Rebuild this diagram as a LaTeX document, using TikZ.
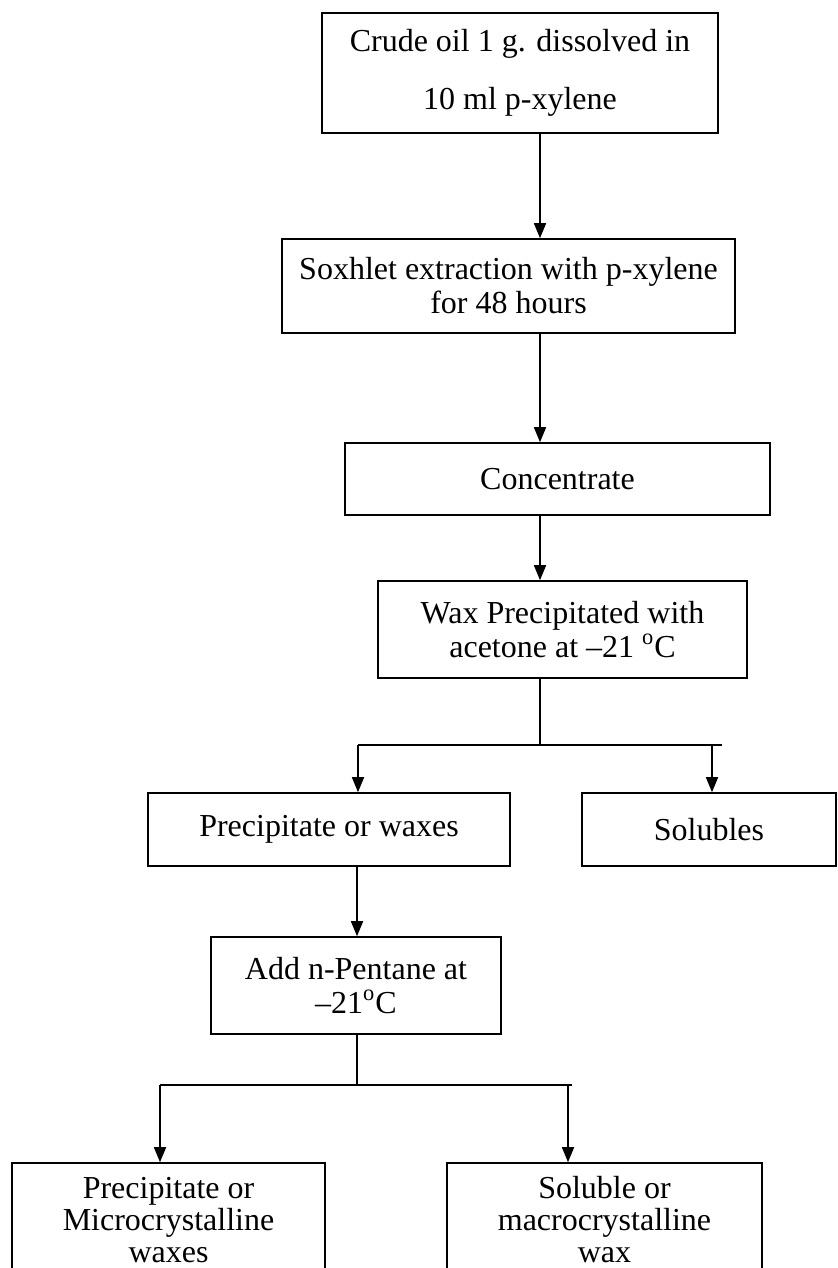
\documentclass[tikz,border=0pt]{standalone}
\usepackage{fontspec}
\setmainfont{Liberation Serif}
\usetikzlibrary{arrows.meta}
\begin{document}
\begin{tikzpicture}[x=0.5pt,y=-0.5pt,line width=0.8pt,
	box/.style={draw,inner sep=2pt,align=center,font=\fontsize{16}{17}\selectfont},
	arr/.style={-{Triangle[length=7.5pt,width=6pt]}}]
		\useasboundingbox (0,0) rectangle (838,1268);
		\clip (0,0) rectangle (838,1268);
		%boxes
		\node[box,minimum width=198pt,minimum height=60pt] (crude) at (520,73) {Crude oil 1 g. dissolved in\\[12pt]10 ml p-xylene};
		\node[box,minimum width=226.5pt,minimum height=47pt] (soxhlet) at (508.5,286) {Soxhlet extraction with p-xylene\\for 48 hours};
		\node[box,minimum width=212.5pt,minimum height=36pt] (conc) at (557.5,479) {Concentrate};
		\node[box,minimum width=184.5pt,minimum height=48.5pt] (waxppt) at (562.5,629.5) {Wax Precipitated with\\acetone at --21 \textsuperscript{o}C};
		\node[box,minimum width=181pt,minimum height=36.5pt] (pptwax) at (329,829.5) {Precipitate or waxes};
		\node[box,minimum width=127pt,minimum height=36.5pt] (solub) at (709,829.5) {Solubles};
		\node[box,minimum width=145pt,minimum height=48.5pt] (pentane) at (356,985.5) {Add n-Pentane at\\--21\textsuperscript{o}C};
		\node[box,font=\fontsize{16}{16}\selectfont,minimum width=156.5pt,minimum height=57pt] (micro) at (168.5,1220) {Precipitate or\\Microcrystalline\\waxes};
		\node[box,font=\fontsize{16}{16}\selectfont,minimum width=157.5pt,minimum height=57pt] (macro) at (604.5,1220) {Soluble or\\macrocrystalline\\wax};
		%arrows
		\coordinate (ax) at (540,0);
		\coordinate (bx) at (357,0);
		\coordinate (s1) at (540,745);
		\coordinate (s2) at (357,1085);
		\draw[arr] (crude.south -| ax)--(soxhlet.north -| ax);
		\draw[arr] (soxhlet.south -| ax)--(conc.north -| ax);
		\draw[arr] (conc.south -| ax)--(waxppt.north -| ax);
		\draw (waxppt.south -| ax)--(s1);
		\draw (358,745)--(722,745);
		\draw[arr] (358,745)--(pptwax.north -| 358,0);
		\draw[arr] (712,745)--(solub.north -| 712,0);
		\draw[arr] (pptwax.south -| bx)--(pentane.north -| bx);
		\draw (pentane.south -| bx)--(s2);
		\draw (160,1085)--(572,1085);
		\draw[arr] (160,1085)--(micro.north -| 160,0);
		\draw[arr] (568,1085)--(macro.north -| 568,0);
\end{tikzpicture}
\end{document}
